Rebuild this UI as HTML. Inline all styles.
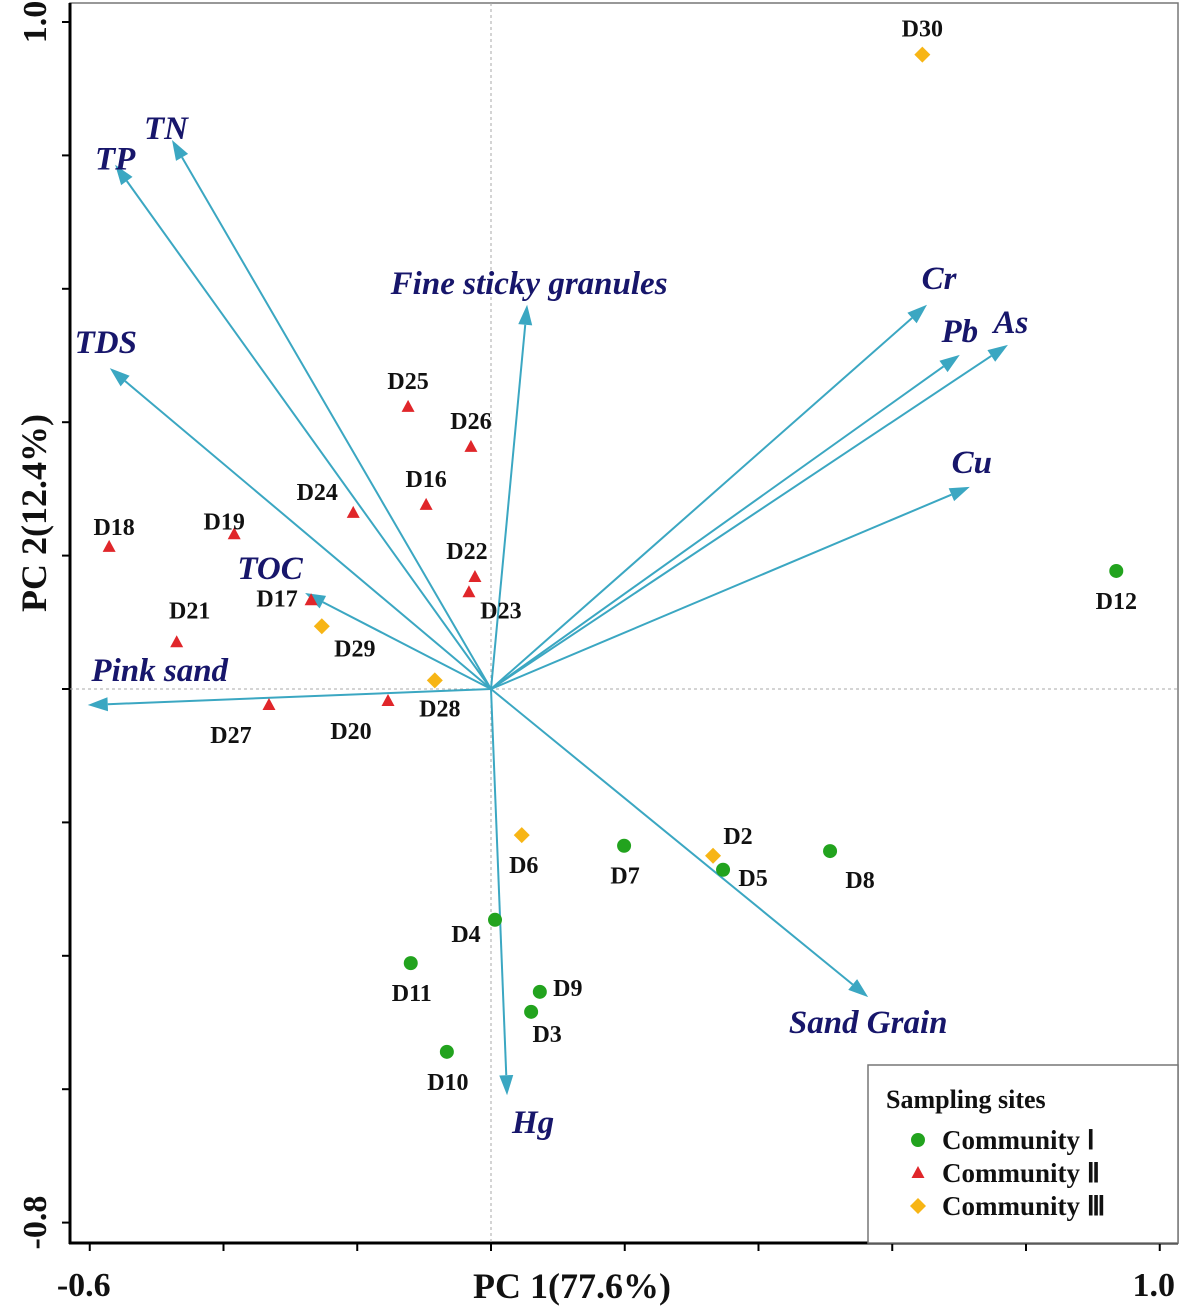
<!DOCTYPE html>
<html><head><meta charset="utf-8">
<style>
html,body{margin:0;padding:0;background:#fff;}
svg{display:block;}
text{font-family:"Liberation Serif",serif;}
</style></head>
<body>
<svg id="chart" width="1181" height="1310" viewBox="0 0 1181 1310" xmlns="http://www.w3.org/2000/svg">
<g id="plot"></g>
</svg>
<script>
// ---- data ----
const xTicks = [-0.6,-0.4,-0.2,0,0.2,0.4,0.6,0.8,1.0];
const yTicks = [-0.8,-0.6,-0.4,-0.2,0,0.2,0.4,0.6,0.8,1.0];
const xTickLabels = {"-0.6":"-0.6","1":"1.0"};
const yTickLabels = {"-0.8":"-0.8","1":"1.0"};

const siteNames = ["D30","D12","D18","D19","D24","D25","D26","D16","D22","D23","D17","D29","D21","D27","D20","D28","D6","D7","D2","D5","D8","D4","D11","D9","D3","D10"];
const siteX = [0.645,0.935,-0.571,-0.384,-0.206,-0.124,-0.030,-0.097,-0.024,-0.033,-0.269,-0.253,-0.470,-0.332,-0.154,-0.084,0.046,0.199,0.332,0.347,0.507,0.006,-0.120,0.073,0.060,-0.066];
const siteY = [0.951,0.177,0.213,0.232,0.264,0.423,0.363,0.276,0.168,0.145,0.133,0.094,0.070,-0.024,-0.018,0.013,-0.219,-0.235,-0.250,-0.271,-0.243,-0.346,-0.411,-0.454,-0.484,-0.544];
const siteGroup = [3,1,2,2,2,2,2,2,2,2,2,3,2,2,2,3,3,1,3,1,1,1,1,1,1,1];
// label offsets (pixels) relative to marker
const siteLabelDx = [0,0,5,-10,-36,0,0,0,-8,32,-34,33,13,-38,-37,5,2,1,25,30,30,-29,1,28,16,1];
const siteLabelDy = [-18,38,-12,-5,-13,-18,-18,-18,-18,26,6,30,-24,38,38,36,38,38,-12,16,37,22,38,4,30,38];

const varNames = ["TP","TN","TDS","TOC","Pink sand","Fine sticky granules","Cr","Pb","As","Cu","Sand Grain","Hg"];
const varX = [-0.562,-0.477,-0.570,-0.278,-0.603,0.054,0.652,0.701,0.773,0.716,0.564,0.024];
const varY = [0.786,0.823,0.481,0.144,-0.024,0.576,0.576,0.501,0.516,0.303,-0.462,-0.609];
const varLabelDx = [0,-6,-4,-35,72,2,12,0,3,2,0,26];
const varLabelDy = [5,-1,-15,-14,-24,-11,-16,-13,-12,-14,36,38];

// ---- axes ----
const X = v => 491 + v*668.75;
const Y = v => 689 - v*667;
const NS="http://www.w3.org/2000/svg";
const g=document.getElementById('plot');
function mk(tag,attrs,parent){const e=document.createElementNS(NS,tag);for(const k in attrs)e.setAttribute(k,attrs[k]);(parent||g).appendChild(e);return e;}

let fr=mk('rect',{x:70,y:3,width:1108,height:1240,fill:'none',stroke:'#777','stroke-width':1.5});


let la=mk('line',{x1:70,y1:3,x2:70,y2:1244,stroke:'#000','stroke-width':3});


let ba=mk('line',{x1:69,y1:1243,x2:1178,y2:1243,stroke:'#000','stroke-width':3});



let zv=mk('line',{x1:X(0),y1:3,x2:X(0),y2:1243,stroke:'#aaa','stroke-width':1,'stroke-dasharray':'3,3'});


let zh=mk('line',{x1:70,y1:Y(0),x2:1178,y2:Y(0),stroke:'#aaa','stroke-width':1,'stroke-dasharray':'3,3'});



xTicks.forEach(t=>{
  let l=mk('line',{x1:X(t),y1:1243,x2:X(t),y2:1251,stroke:'#000','stroke-width':2});
  
  
  const lab=xTickLabels[String(t)];
  if(lab){let tx=mk('text',{x:X(t)-6,y:1296,'text-anchor':'middle','font-size':34,'font-weight':'bold',fill:'#111'});tx.textContent=lab;
  
  }
});
yTicks.forEach(t=>{
  let l=mk('line',{x1:62,y1:Y(t),x2:70,y2:Y(t),stroke:'#000','stroke-width':2});
  
  
  const lab=yTickLabels[String(t)];
  if(lab){let tx=mk('text',{x:0,y:0,transform:`translate(46,${Y(t)}) rotate(-90)`,'text-anchor':'middle','font-size':34,'font-weight':'bold',fill:'#111'});tx.textContent=lab;
  
  }
});
let xt=mk('text',{x:572,y:1298,'text-anchor':'middle','font-size':36,'font-weight':'bold',fill:'#111'});xt.textContent='PC 1(77.6%)';


let yt=mk('text',{x:0,y:0,transform:'translate(46,513) rotate(-90)','text-anchor':'middle','font-size':36,'font-weight':'bold',fill:'#111'});yt.textContent='PC 2(12.4%)';



const AC='#3ba7c2';
varNames.forEach((n,i)=>{
  const x1=X(0),y1=Y(0),x2=X(varX[i]),y2=Y(varY[i]);
  const ang=Math.atan2(y2-y1,x2-x1),L=20,W=7;
  const bx=x2-L*Math.cos(ang),by=y2-L*Math.sin(ang);
  let ln=mk('line',{x1:x1,y1:y1,x2:bx,y2:by,stroke:AC,'stroke-width':2});
  
  
  const px=-Math.sin(ang)*W,py=Math.cos(ang)*W;
  let hd=mk('polygon',{points:`${x2},${y2} ${bx+px},${by+py} ${bx-px},${by-py}`,fill:AC});
  
  
  let t=mk('text',{x:x2+varLabelDx[i],y:y2+varLabelDy[i],'text-anchor':'middle','font-size':33,'font-style':'italic','font-weight':'bold',fill:'#17166b'});
  t.textContent=n;
  
  
});

const colors={1:'#22a31e',2:'#e0262a',3:'#f7b515'};
function marker(grp,cx,cy,parent){
  let e;
  if(grp===1) e=mk('circle',{cx:cx,cy:cy,r:7,fill:colors[1]},parent);
  else if(grp===2) e=mk('polygon',{points:`${cx},${cy-7} ${cx+6.5},${cy+5} ${cx-6.5},${cy+5}`,fill:colors[2]},parent);
  else e=mk('polygon',{points:`${cx},${cy-8} ${cx+8},${cy} ${cx},${cy+8} ${cx-8},${cy}`,fill:colors[3]},parent);
  return e;
}
siteNames.forEach((n,i)=>{
  const cx=X(siteX[i]),cy=Y(siteY[i]);
  const m=marker(siteGroup[i],cx,cy);
  
  
  let t=mk('text',{x:cx+siteLabelDx[i],y:cy+siteLabelDy[i],'text-anchor':'middle','font-size':24,'font-weight':'bold',fill:'#111'});
  t.textContent=n;
  
  
});

const lg=mk('g',{});


mk('rect',{x:868,y:1065,width:310,height:178,fill:'#fff',stroke:'#777','stroke-width':1.5},lg);
let lt=mk('text',{x:886,y:1108,'font-size':26,'font-weight':'bold',fill:'#111'},lg);lt.textContent='Sampling sites';


const legendLabels=['Community Ⅰ','Community Ⅱ','Community Ⅲ'];
legendLabels.forEach((s,i)=>{
  const yy=1140+i*33;
  const m=marker(i+1,918,yy,lg);
  
  
  let t=mk('text',{x:942,y:yy+9,'font-size':27,'font-weight':'bold',fill:'#111'},lg);
  t.textContent=s;
  
  
});
</script>
</body></html>
